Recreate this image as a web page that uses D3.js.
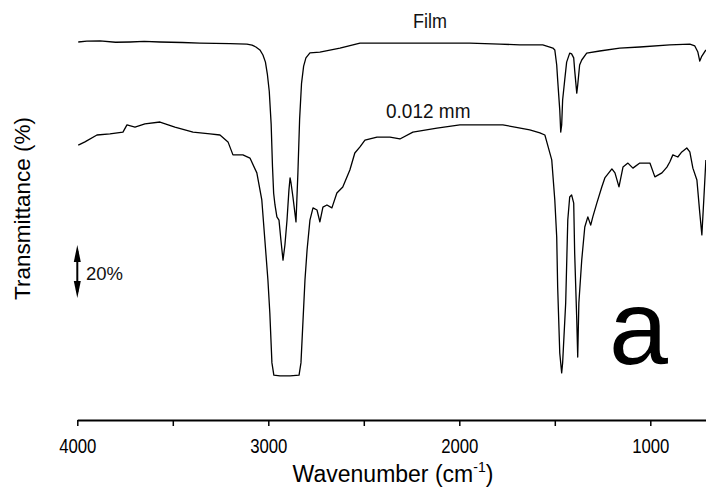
<!DOCTYPE html>
<html><head><meta charset="utf-8">
<script src="https://cdn.jsdelivr.net/npm/d3@7/dist/d3.min.js"></script>
<style>
html,body{margin:0;padding:0;background:#fff;}
svg{display:block;font-family:"Liberation Sans",Arial,sans-serif;}
</style></head>
<body>
<svg id="chart" width="706" height="488"></svg>
<script>
// Film spectrum (wavenumber cm-1, transmittance %, offset scale)
const filmWave = [3995,3950,3881,3800,3724,3650,3567,3450,3358,3200,3112,3085,3065,3044,3028,3015,3005,2995,2985,2978,2972,2965,2955,2944,2934,2923,2913,2902,2892,2886,2881,2871,2855,2845,2836,2826,2815,2803,2782,2730,2625,2520,2363,2154,1945,1788,1683,1563,1526,1510,1500,1490,1485,1474,1469,1464,1459,1448,1438,1422,1412,1401,1396,1385,1380,1370,1359,1333,1265,1160,1055,898,793,767,751,741,730,709];
const filmT    = [135.1,135.4,135.5,135.0,135.1,135.3,135.1,134.9,134.7,134.5,134.3,133.9,133.2,132.1,130.2,127.5,123.0,116.5,104.0,88.0,78.0,73.6,69.1,67.9,60.4,52.8,58.5,67.9,79.2,83.8,81.9,76.6,67.2,85.7,106.0,119.5,126.0,129.1,131.0,131.3,132.8,134.7,134.7,134.7,134.7,134.3,134.0,134.0,133.2,132.8,132.1,126.4,120.8,109.4,101.1,103.8,113.2,120.8,127.5,130.9,130.6,129.1,124.5,115.8,118.9,126.4,128.3,130.9,131.7,132.8,133.2,134.0,134.3,133.6,131.3,127.9,129.8,132.1];

// 0.012 mm spectrum
const thinWave = [3995,3960,3897,3829,3761,3740,3698,3646,3567,3489,3394,3305,3253,3211,3185,3133,3096,3060,3034,3018,3002,2992,2981,2971,2939,2886,2839,2829,2808,2797,2782,2766,2745,2730,2714,2693,2667,2641,2610,2573,2547,2520,2494,2431,2363,2311,2243,2117,1997,1892,1772,1709,1631,1578,1552,1542,1516,1500,1490,1485,1474,1464,1459,1443,1432,1422,1412,1401,1396,1385,1380,1374,1359,1343,1327,1312,1301,1280,1254,1238,1201,1185,1164,1143,1117,1091,1055,1002,976,939,913,898,882,856,835,809,793,777,756,741,730,720,709];
const thinT    = [96.2,97.4,100.0,100.4,101.1,103.8,103.0,104.2,104.9,103.0,101.1,100.4,100.0,97.4,92.5,92.5,91.3,85.7,75.5,60.4,45.3,32.8,14.0,9.4,9.1,9.1,9.4,14.0,45.3,56.6,67.9,72.5,71.7,67.2,72.8,73.6,72.5,78.1,80.4,86.8,93.2,95.5,98.1,99.2,99.2,98.5,101.1,102.6,103.8,103.8,103.8,103.0,101.9,100.8,100.0,97.4,90.6,75.5,61.5,42.6,17.7,10.2,14.0,36.6,67.9,76.6,77.4,74.3,55.5,30.2,16.2,36.6,52.8,65.3,69.1,66.0,69.1,74.3,80.4,83.8,87.2,85.7,80.4,87.9,89.4,87.5,89.4,89.4,84.2,85.7,87.9,89.8,92.5,91.7,93.6,95.1,93.6,87.5,83.0,70.6,62.3,75.5,90.6];

const xTicks = [4000,3500,3000,2500,2000,1500,1000];
const xLabelTicks = [4000,3000,2000,1000];
const scaleBar = [38.5, 58.5]; // 20 %

const svg = d3.select("#chart");
const x = d3.scaleLinear().domain([4000, 700]).range([77.3, 707.6]);
const y = d3.scaleLinear().domain([0, 100]).range([400, 135]);

const line = d3.line().x(d => x(d[0])).y(d => y(d[1]));
const filmData = filmWave.map((w,i)=>[w, filmT[i]]);
const thinData = thinWave.map((w,i)=>[w, thinT[i]]);

svg.append("path").datum(filmData).attr("d", line)
  .attr("fill","none").attr("stroke","#000").attr("stroke-width",1.3).attr("stroke-linejoin","round");
svg.append("path").datum(thinData).attr("d", line)
  .attr("fill","none").attr("stroke","#000").attr("stroke-width",1.3).attr("stroke-linejoin","round");

// x axis
const ax = svg.append("g").attr("transform","translate(0,420)")
  .call(d3.axisBottom(x).tickValues(xTicks).tickSize(6).tickSizeOuter(0).tickPadding(13)
     .tickFormat(d => xLabelTicks.includes(d) ? d : ""));
ax.select(".domain").attr("stroke","#000").attr("stroke-width",2);
ax.selectAll(".tick line").attr("stroke","#000").attr("stroke-width",1.5);
ax.selectAll(".tick text").attr("font-size",19.5).attr("fill","#000")
  .attr("font-family",'"Liberation Sans",Arial,sans-serif')
  .attr("transform","scale(0.86,1)");

// axis titles
const xt = svg.append("text").attr("x",393).attr("y",482).attr("text-anchor","middle")
  .attr("font-size",23).attr("fill","#000");
xt.append("tspan").text("Wavenumber (cm");
xt.append("tspan").text("-1").attr("font-size",14).attr("dy",-10);
xt.append("tspan").text(")").attr("dy",10);

svg.append("text").attr("transform","translate(30,208.5) rotate(-90)")
  .attr("text-anchor","middle").attr("font-size",22.5).attr("fill","#000")
  .text("Transmittance (%)");

// series labels
svg.append("text").attr("x",413).attr("y",28).attr("font-size",20).attr("fill","#111")
  .attr("transform","translate(413,0) scale(0.9,1) translate(-413,0)").text("Film");
svg.append("text").attr("x",386).attr("y",118).attr("font-size",20).attr("fill","#111")
  .attr("transform","translate(386,0) scale(0.95,1) translate(-386,0)").text("0.012 mm");

// scale bar
const bx = x(4000), y1 = y(scaleBar[1]), y2 = y(scaleBar[0]);
svg.append("line").attr("x1",bx).attr("x2",bx).attr("y1",y1+6).attr("y2",y2-6)
  .attr("stroke","#000").attr("stroke-width",2);
svg.append("path").attr("d",`M${bx},${y1} L${bx-3.5},${y1+17} L${bx+3.5},${y1+17} Z`).attr("fill","#000");
svg.append("path").attr("d",`M${bx},${y2} L${bx-3.5},${y2-17} L${bx+3.5},${y2-17} Z`).attr("fill","#000");
svg.append("text").attr("x",86).attr("y",280).attr("font-size",18.5).attr("fill","#111").text("20%");

// panel letter
svg.append("text").attr("x",609).attr("y",364).attr("font-size",106).attr("fill","#000").text("a");
</script>
</body></html>
